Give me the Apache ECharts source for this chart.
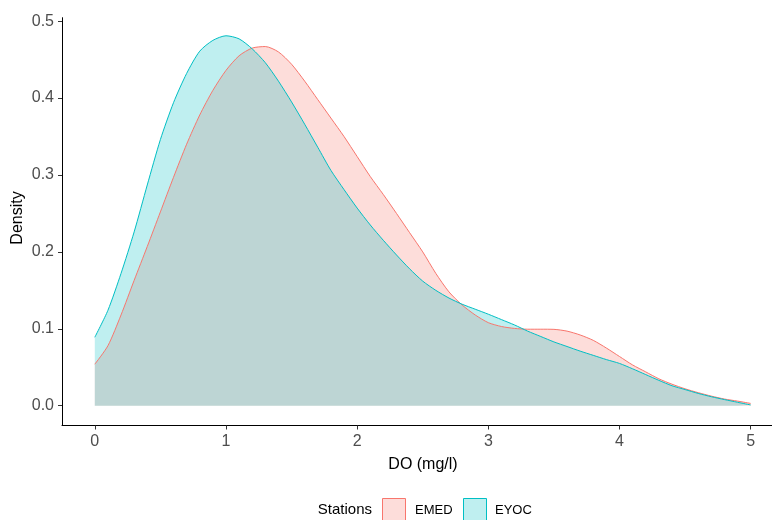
<!DOCTYPE html>
<html>
<head>
<meta charset="utf-8">
<script src="https://cdn.jsdelivr.net/npm/echarts@6/dist/echarts.min.js"></script>
<style>html,body{margin:0;padding:0;background:#fff}#c{width:772px;height:520px}</style>
</head>
<body>
<div id="c"></div>
<script>
const xGrid = [0,0.1,0.2,0.3,0.4,0.5,0.6,0.7,0.8,0.9,1.0,1.1,1.2,1.3,1.4,1.5,1.6,1.7,1.8,1.9,2.0,2.1,2.2,2.3,2.4,2.5,2.6,2.7,2.8,2.9,3.0,3.1,3.2,3.3,3.4,3.5,3.6,3.7,3.8,3.9,4.0,4.1,4.2,4.3,4.4,4.5,4.6,4.7,4.8,4.9,5.0];
const emed = [0.054,0.078,0.118,0.163,0.207,0.252,0.297,0.340,0.378,0.410,0.436,0.455,0.465,0.467,0.460,0.444,0.422,0.398,0.374,0.350,0.324,0.298,0.2745,0.250,0.225,0.200,0.172,0.148,0.131,0.118,0.108,0.103,0.1005,0.0995,0.0995,0.0993,0.097,0.092,0.085,0.075,0.064,0.053,0.044,0.035,0.028,0.022,0.017,0.0125,0.0087,0.006,0.003];
const eyoc = [0.089,0.124,0.172,0.226,0.287,0.346,0.394,0.432,0.461,0.475,0.481,0.477,0.464,0.446,0.422,0.395,0.366,0.336,0.306,0.281,0.257,0.235,0.215,0.196,0.178,0.162,0.150,0.140,0.132,0.1255,0.119,0.112,0.105,0.097,0.090,0.083,0.077,0.071,0.0655,0.060,0.055,0.048,0.0405,0.033,0.026,0.021,0.016,0.0117,0.008,0.0045,0.001];
const xTicks = [0,1,2,3,4,5];
const yTicks = [0,0.1,0.2,0.3,0.4,0.5];
const seriesNames = ['EMED','EYOC'];
const colors = ['#F8766D','#00BFC4'];

const chart = echarts.init(document.getElementById('c'), null, {renderer:'canvas'});
const pairs = arr => xGrid.map((x,i)=>[x,arr[i]]);
const font = 'Liberation Sans, Arial, sans-serif';
chart.setOption({
  animation:false,
  backgroundColor:'#fff',
  grid:{left:62, right:0, top:17.7, bottom:94.5, containLabel:false},
  xAxis:{type:'value', min:-0.25, max:5.1625,
    axisLine:{show:true, onZero:false, lineStyle:{color:'#000', width:1}},
    axisTick:{show:true, length:4, lineStyle:{color:'#333', width:1}, customValues:xTicks},
    axisLabel:{customValues:xTicks, color:'#4D4D4D', fontSize:16, fontFamily:font, margin:8, formatter:v=>String(v)},
    splitLine:{show:false}},
  yAxis:{type:'value', min:-0.0257, max:0.5045,
    axisLine:{show:true, onZero:false, lineStyle:{color:'#000', width:1}},
    axisTick:{show:true, length:4, lineStyle:{color:'#333', width:1}, customValues:yTicks},
    axisLabel:{customValues:yTicks, color:'#4D4D4D', fontSize:16, fontFamily:font, margin:8, formatter:v=>v.toFixed(1)},
    splitLine:{show:false}},
  series:[
    {name:seriesNames[0], type:'line', data:pairs(emed), smooth:0.25, symbol:'none',
      lineStyle:{color:colors[0], width:1}, itemStyle:{color:colors[0]},
      areaStyle:{color:colors[0], opacity:0.25}},
    {name:seriesNames[1], type:'line', data:pairs(eyoc), smooth:0.25, symbol:'none',
      lineStyle:{color:colors[1], width:1}, itemStyle:{color:colors[1]},
      areaStyle:{color:colors[1], opacity:0.25}}
  ],
  graphic:[
    {type:'text', style:{text:'DO (mg/l)', x:423, y:465, align:'center', verticalAlign:'middle', fill:'#000', font:'16px '+font}},
    {type:'text', x:18, y:218, rotation:Math.PI/2, style:{text:'Density', x:0, y:0, align:'center', verticalAlign:'middle', fill:'#000', font:'16px '+font}},
    {type:'text', style:{text:'Stations', x:372, y:510, align:'right', verticalAlign:'middle', fill:'#000', font:'15px '+font}},
    {type:'rect', shape:{x:382.5, y:498.5, width:23, height:23}, style:{fill:'rgba(248,118,109,0.25)', stroke:colors[0], lineWidth:1}},
    {type:'text', style:{text:seriesNames[0], x:415, y:510, align:'left', verticalAlign:'middle', fill:'#000', font:'13px '+font}},
    {type:'rect', shape:{x:463.5, y:498.5, width:23, height:23}, style:{fill:'rgba(0,191,196,0.25)', stroke:colors[1], lineWidth:1}},
    {type:'text', style:{text:seriesNames[1], x:495, y:510, align:'left', verticalAlign:'middle', fill:'#000', font:'13px '+font}}
  ]
});
</script>
</body>
</html>
